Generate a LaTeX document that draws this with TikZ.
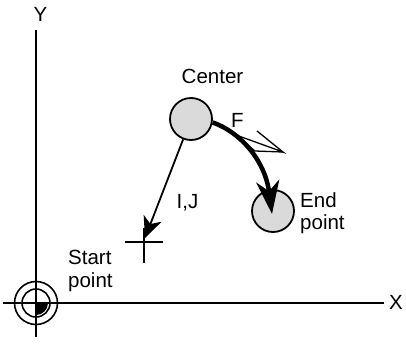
\documentclass[tikz,border=0pt]{standalone}
\usepackage{fontspec}
\setmainfont{Liberation Sans}
\usepackage{tikz}
\usetikzlibrary{arrows.meta,positioning,calc}
\definecolor{ptfill}{RGB}{218,218,218}

\begin{document}
\begin{tikzpicture}[x=1pt, y=-1pt,
    lbl/.style={font=\fontsize{20.5}{22.5}\selectfont, inner sep=0pt},
    pt/.style={circle, draw, line width=1.8pt, fill=ptfill, minimum size=42pt, inner sep=0pt},
    axis/.style={line width=1.8pt}]
    \useasboundingbox (0,0) rectangle (406,343);

    % ---------------- Axes ----------------
    \coordinate (O) at (36,303);
    \coordinate (ytop) at (36,30);
    \coordinate (ybot) at (36,337);
    \coordinate (xleft) at (3,303);
    \coordinate (xright) at (384,303);
    \draw[axis] (ybot) -- (ytop);
    \draw[axis] (xleft) -- (xright);
    \node[lbl, anchor=base] (ylbl) at (40.5,21) {Y};
    \node[lbl, anchor=base] (xlbl) at (396,309) {X};

    % ---------------- Origin mark ----------------
    \draw[line width=1.6pt] (O) circle[radius=21.5];
    \draw[line width=1.6pt] (O) circle[radius=14];
    \fill (O) -- ++(12,0) arc[start angle=0, end angle=90, radius=12] -- cycle;

    % ---------------- Center and end point ----------------
    \node[pt] (ctr) at (191,119) {};
    \node[lbl, anchor=base] (ctrlbl) at (212.5,83) {Center};
    \node[pt] (endc) at (273,211) {};
    \node[lbl, anchor=west, align=left] (endlbl) at (300,213) {End\\point};

    % ---------------- Start point ----------------
    \coordinate (start) at (144,242);
    \draw[line width=1.8pt] (125,242) -- (163,242);
    \draw[line width=1.8pt] (144,228) -- (144,263);
    \node[lbl, anchor=west, align=left] (startlbl) at (68,271) {Start\\point};

    % ---------------- I,J vector ----------------
    \coordinate (ijend) at (145,238);
    \draw[line width=1.8pt, -{Stealth[length=21pt, width=19pt, inset=6pt]}] (ctr) -- (ijend);
    \node[lbl, anchor=base] (ijlbl) at (187.5,208) {I,J};

    % ---------------- Arc with feed ----------------
    \coordinate (arcend) at (272,214);
    \draw[line width=4.5pt, -{Stealth[length=33pt, width=23pt, inset=10pt]}]
        (ctr.-9) .. controls (240,132) and (265,160) .. (arcend);
    \node[lbl, anchor=base] (flbl) at (237.5,127) {F};

    % ---------------- Tangent direction ----------------
    \coordinate (tan) at (236,135);
    \coordinate (tantip) at (283,152);
    \draw[line width=1.3pt, line join=miter] (tan) -- (tantip) -- (257,131);
    \draw[line width=1.3pt] (tantip) -- (255,151) -- (tan);

\end{tikzpicture}
\end{document}
